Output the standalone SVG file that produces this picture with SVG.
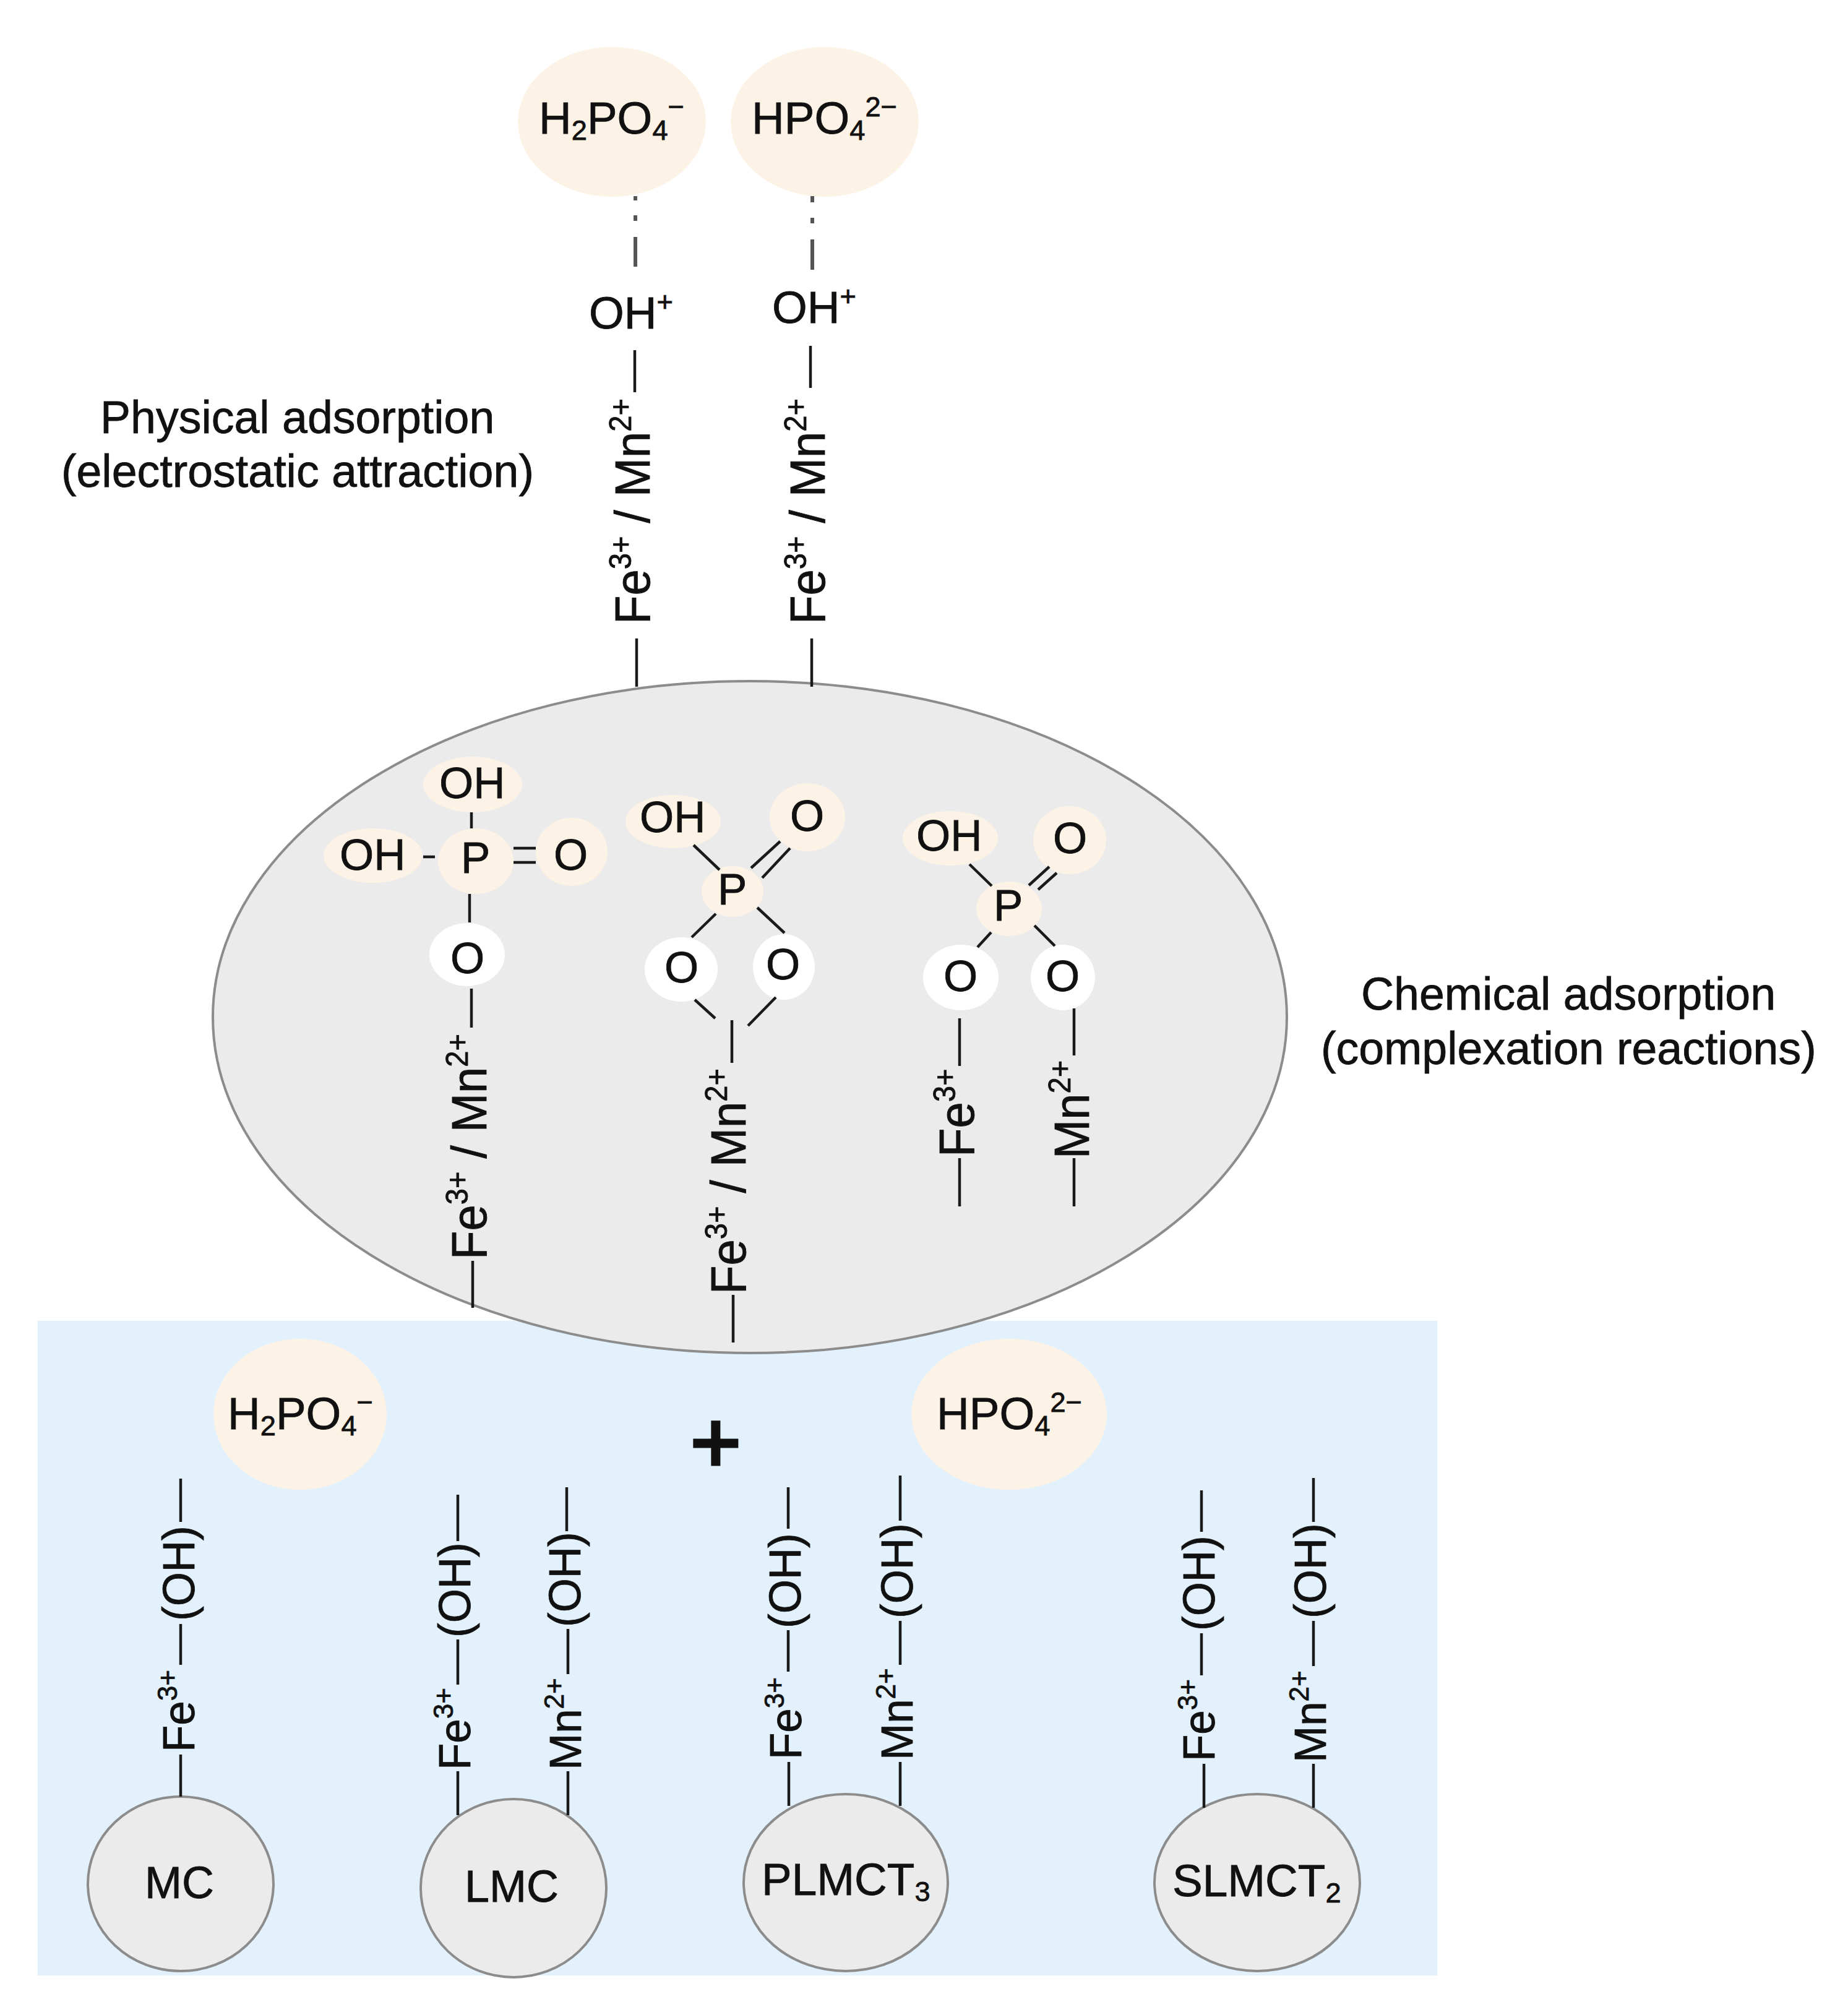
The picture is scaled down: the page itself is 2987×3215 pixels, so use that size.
<svg xmlns="http://www.w3.org/2000/svg" width="2987" height="3215" viewBox="0 0 2987 3215">
<style>
text{font-family:"Liberation Sans",Arial,sans-serif;font-size:71px;fill:#111;stroke:#111;stroke-width:.8}
.v{font-size:76px}
.w{font-size:71px}
.s{font-size:73.5px}
.b{font-size:73px}
.up{font-size:62%;baseline-shift:28px}
.dn{font-size:62%;baseline-shift:-10px}
.ion{fill:#fdf2e6}
.wh{fill:#fff}
.core{fill:#ebebeb;stroke:#8c8c8c;stroke-width:4}
#connectors line{stroke:#1a1a1a;stroke-width:4.5;fill:none}
#connectors .dash{stroke:#555;stroke-width:6}
</style>
<rect id="panel" x="61" y="2135" width="2262" height="1058" fill="#e3f1fc"/>
<g id="adsorbent"><ellipse class="core" cx="1212" cy="1644" rx="868" ry="543"/></g>

<g id="ion-top-h2po4"><ellipse class="ion" cx="989" cy="197" rx="152" ry="121"/><text class="b" x="871" y="216">H<tspan class="dn">2</tspan>PO<tspan class="dn">4</tspan><tspan class="up">−</tspan></text></g>
<g id="ion-top-hpo4"><ellipse class="ion" cx="1333" cy="197" rx="152" ry="121"/><text class="b" x="1215" y="216">HPO<tspan class="dn">4</tspan><tspan class="up">2−</tspan></text></g>
<g id="oh-1"><text x="952" y="531" class="b">OH<tspan class="up">+</tspan></text></g>
<g id="oh-2"><text x="1248" y="522" class="b">OH<tspan class="up">+</tspan></text></g>
<g id="metal-1"><text class="v" transform="translate(1050 1009) rotate(-90) scale(1 1.05)">Fe<tspan class="up">3+</tspan> / Mn<tspan class="up">2+</tspan></text></g>
<g id="metal-2"><text class="v" transform="translate(1333 1009) rotate(-90) scale(1 1.05)">Fe<tspan class="up">3+</tspan> / Mn<tspan class="up">2+</tspan></text></g>

<g id="label-physical"><text x="162" y="700" class="s">Physical adsorption</text><text x="99" y="787" class="s">(electrostatic attraction)</text></g>
<g id="label-chemical"><text x="2200" y="1632" class="s">Chemical adsorption</text><text x="2135" y="1720" class="s">(complexation reactions)</text></g>

<g id="complex-a">
<ellipse class="ion" cx="764" cy="1268" rx="80" ry="45"/><text x="710" y="1290">OH</text>
<ellipse class="ion" cx="603" cy="1383" rx="80" ry="44"/><text x="549" y="1406">OH</text>
<ellipse class="ion" cx="769" cy="1392" rx="61" ry="53"/><text x="745" y="1411">P</text>
<ellipse class="ion" cx="924" cy="1377" rx="58" ry="55"/><text x="895" y="1406">O</text>
<ellipse class="wh" cx="755" cy="1543" rx="61" ry="51"/><text x="728" y="1573">O</text>
<text class="v" transform="translate(786 2036) rotate(-90) scale(1 1.05)">Fe<tspan class="up">3+</tspan> / Mn<tspan class="up">2+</tspan></text>
</g>
<g id="complex-b">
<ellipse class="ion" cx="1088" cy="1328" rx="77" ry="43"/><text x="1034" y="1345">OH</text>
<ellipse class="ion" cx="1305" cy="1321" rx="61" ry="55"/><text x="1277" y="1343">O</text>
<ellipse class="ion" cx="1184" cy="1441" rx="50" ry="41"/><text x="1160" y="1462">P</text>
<ellipse class="wh" cx="1101" cy="1567" rx="59" ry="52"/><text x="1074" y="1588">O</text>
<ellipse class="wh" cx="1267" cy="1563" rx="50" ry="53"/><text x="1238" y="1583">O</text>
<text class="v" transform="translate(1205 2092) rotate(-90) scale(1 1.05)">Fe<tspan class="up">3+</tspan> / Mn<tspan class="up">2+</tspan></text>
</g>
<g id="complex-c">
<ellipse class="ion" cx="1536" cy="1355" rx="77" ry="44"/><text x="1481" y="1375">OH</text>
<ellipse class="ion" cx="1729" cy="1358" rx="59" ry="55"/><text x="1702" y="1379">O</text>
<ellipse class="ion" cx="1631" cy="1469" rx="53" ry="44"/><text x="1606" y="1488">P</text>
<ellipse class="wh" cx="1553" cy="1580" rx="61" ry="53"/><text x="1525" y="1602">O</text>
<ellipse class="wh" cx="1718" cy="1580" rx="52" ry="53"/><text x="1690" y="1602">O</text>
<text class="v" transform="translate(1574 1870) rotate(-90) scale(1 1.05)">Fe<tspan class="up">3+</tspan></text>
<text class="v" transform="translate(1760 1873) rotate(-90) scale(1 1.05)">Mn<tspan class="up">2+</tspan></text>
</g>

<g id="ion-bottom-h2po4"><ellipse class="ion" cx="485" cy="2286" rx="140" ry="122"/><text class="b" x="368" y="2310">H<tspan class="dn">2</tspan>PO<tspan class="dn">4</tspan><tspan class="up">−</tspan></text></g>
<g id="ion-bottom-hpo4"><ellipse class="ion" cx="1631" cy="2286" rx="158" ry="122"/><text class="b" x="1514" y="2310">HPO<tspan class="dn">4</tspan><tspan class="up">2−</tspan></text></g>
<g id="plus"><text x="1116" y="2379" style="font-size:140px;stroke-width:5">+</text></g>

<g id="mc">
<ellipse class="core" cx="292" cy="3045" rx="150" ry="141"/><text class="w" x="234" y="3068" style="font-size:72px">MC</text>
<text class="w" transform="translate(314 2620) rotate(-90) scale(1 1.02)">(OH)</text>
<text class="w" transform="translate(314 2832) rotate(-90) scale(1 1.02)">Fe<tspan class="up">3+</tspan></text>
</g>
<g id="lmc">
<ellipse class="core" cx="830" cy="3052" rx="150" ry="144"/><text class="w" x="751" y="3074" style="font-size:72px">LMC</text>
<text class="w" transform="translate(760 2647) rotate(-90) scale(1 1.02)">(OH)</text>
<text class="w" transform="translate(760 2861) rotate(-90) scale(1 1.02)">Fe<tspan class="up">3+</tspan></text>
<text class="w" transform="translate(938 2630) rotate(-90) scale(1 1.02)">(OH)</text>
<text class="w" transform="translate(939 2861) rotate(-90) scale(1 1.02)">Mn<tspan class="up">2+</tspan></text>
</g>
<g id="plmct3">
<ellipse class="core" cx="1367" cy="3043" rx="165" ry="143"/><text class="b" x="1231" y="3063">PLMCT<tspan class="dn">3</tspan></text>
<text class="w" transform="translate(1294 2632) rotate(-90) scale(1 1.02)">(OH)</text>
<text class="w" transform="translate(1295 2844) rotate(-90) scale(1 1.02)">Fe<tspan class="up">3+</tspan></text>
<text class="w" transform="translate(1475 2616) rotate(-90) scale(1 1.02)">(OH)</text>
<text class="w" transform="translate(1475 2845) rotate(-90) scale(1 1.02)">Mn<tspan class="up">2+</tspan></text>
</g>
<g id="slmct2">
<ellipse class="core" cx="2032" cy="3043" rx="166" ry="143"/><text class="b" x="1895" y="3065">SLMCT<tspan class="dn">2</tspan></text>
<text class="w" transform="translate(1963 2636) rotate(-90) scale(1 1.02)">(OH)</text>
<text class="w" transform="translate(1963 2847) rotate(-90) scale(1 1.02)">Fe<tspan class="up">3+</tspan></text>
<text class="w" transform="translate(2143 2616) rotate(-90) scale(1 1.02)">(OH)</text>
<text class="w" transform="translate(2143 2849) rotate(-90) scale(1 1.02)">Mn<tspan class="up">2+</tspan></text>
</g>

<g id="connectors">
<line class="dash" x1="1027" y1="317" x2="1027" y2="324"/><line class="dash" x1="1027" y1="348" x2="1027" y2="357"/><line class="dash" x1="1027" y1="383" x2="1027" y2="431"/>
<line class="dash" x1="1313" y1="317" x2="1313" y2="327"/><line class="dash" x1="1313" y1="352" x2="1313" y2="361"/><line class="dash" x1="1313" y1="387" x2="1313" y2="436"/>
<line x1="1026" y1="566" x2="1026" y2="634"/><line x1="1310" y1="559" x2="1310" y2="627"/>
<line x1="1029" y1="1032" x2="1029" y2="1110"/><line x1="1312" y1="1032" x2="1312" y2="1110"/>

<line x1="762" y1="1313" x2="762" y2="1339"/><line x1="684" y1="1385" x2="703" y2="1385"/>
<line x1="830" y1="1371" x2="866" y2="1371"/><line x1="830" y1="1394" x2="866" y2="1394"/>
<line x1="759" y1="1445" x2="759" y2="1491"/><line x1="762" y1="1598" x2="762" y2="1661"/><line x1="764" y1="2038" x2="764" y2="2114"/>

<line x1="1121" y1="1366" x2="1163" y2="1406"/><line x1="1214" y1="1403" x2="1261" y2="1360"/><line x1="1232" y1="1419" x2="1277" y2="1371"/>
<line x1="1157" y1="1477" x2="1118" y2="1515"/><line x1="1224" y1="1467" x2="1268" y2="1508"/>
<line x1="1123" y1="1616" x2="1156" y2="1646"/><line x1="1254" y1="1612" x2="1209" y2="1658"/>
<line x1="1183" y1="1649" x2="1183" y2="1718"/><line x1="1185" y1="2093" x2="1185" y2="2170"/>

<line x1="1567" y1="1397" x2="1603" y2="1432"/><line x1="1663" y1="1431" x2="1696" y2="1401"/><line x1="1678" y1="1438" x2="1708" y2="1411"/>
<line x1="1602" y1="1507" x2="1580" y2="1531"/><line x1="1672" y1="1496" x2="1705" y2="1529"/>
<line x1="1551" y1="1646" x2="1551" y2="1723"/><line x1="1736" y1="1630" x2="1736" y2="1706"/>
<line x1="1551" y1="1872" x2="1551" y2="1950"/><line x1="1736" y1="1872" x2="1736" y2="1950"/>

<line x1="292" y1="2390" x2="292" y2="2460"/><line x1="292" y1="2625" x2="292" y2="2691"/><line x1="292" y1="2836" x2="292" y2="2904"/>
<line x1="740" y1="2416" x2="740" y2="2491"/><line x1="740" y1="2650" x2="740" y2="2723"/><line x1="740" y1="2863" x2="740" y2="2934"/>
<line x1="916" y1="2404" x2="916" y2="2475"/><line x1="918" y1="2633" x2="918" y2="2706"/><line x1="918" y1="2863" x2="918" y2="2934"/>
<line x1="1274" y1="2404" x2="1274" y2="2471"/><line x1="1274" y1="2635" x2="1274" y2="2702"/><line x1="1275" y1="2848" x2="1275" y2="2919"/>
<line x1="1455" y1="2385" x2="1455" y2="2458"/><line x1="1455" y1="2620" x2="1455" y2="2691"/><line x1="1455" y1="2848" x2="1455" y2="2919"/>
<line x1="1942" y1="2409" x2="1942" y2="2476"/><line x1="1942" y1="2640" x2="1942" y2="2708"/><line x1="1946" y1="2851" x2="1946" y2="2922"/>
<line x1="2123" y1="2389" x2="2123" y2="2460"/><line x1="2123" y1="2620" x2="2123" y2="2693"/><line x1="2123" y1="2851" x2="2123" y2="2922"/>
</g>
</svg>
